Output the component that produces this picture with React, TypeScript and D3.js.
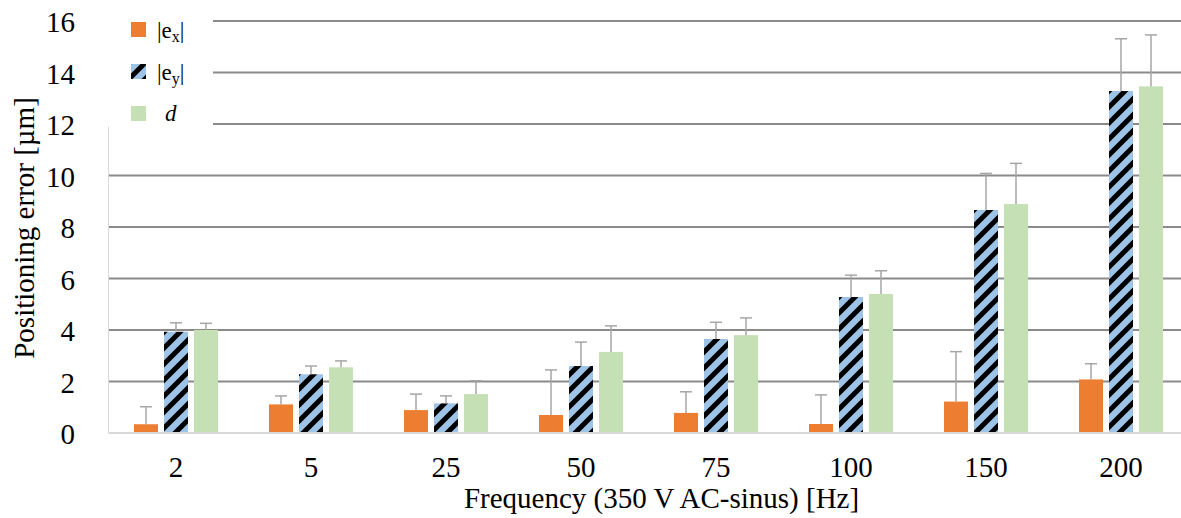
import { useMemo } from 'react';
import * as d3 from 'd3';

const frequencies = ['2', '5', '25', '50', '75', '100', '150', '200'];
const seriesKeys = ['ex', 'ey', 'd'];

// bar heights
const exValues = [0.34, 1.11, 0.89, 0.7, 0.78, 0.35, 1.22, 2.08];
const eyValues = [3.93, 2.28, 1.15, 2.6, 3.65, 5.28, 8.66, 13.28];
const dValues = [4.0, 2.55, 1.51, 3.15, 3.8, 5.4, 8.89, 13.46];

// upper end of error bars
const exErrTop = [1.02, 1.44, 1.51, 2.45, 1.6, 1.48, 3.16, 2.69];
const eyErrTop = [4.28, 2.6, 1.44, 3.53, 4.3, 6.13, 10.08, 15.31];
const dErrTop = [4.26, 2.8, 2.03, 4.16, 4.47, 6.3, 10.47, 15.46];

const yTicks = [0, 2, 4, 6, 8, 10, 12, 14, 16];

const W = 1181;
const H = 518;
const FONT = '"Liberation Serif", "Times New Roman", serif';

export default function App() {
  const y = useMemo(() => d3.scaleLinear().domain([0, 16]).range([433, 21]), []);
  const x = useMemo(
    () => d3.scaleBand<string>().domain(frequencies).range([108.5, 108.5 + 8 * 135]).padding(0),
    []
  );
  const xs = useMemo(
    () => d3.scaleBand<string>().domain(seriesKeys).range([-42, 42]).paddingInner(0.2),
    []
  );

  const fills: Record<string, string> = {
    ex: '#ed7d31',
    ey: 'url(#hatch)',
    d: '#c5e0b4'
  };
  const values: Record<string, number[]> = { ex: exValues, ey: eyValues, d: dValues };
  const errTops: Record<string, number[]> = { ex: exErrTop, ey: eyErrTop, d: dErrTop };

  const plotLeft = 108.5;
  const bw = xs.bandwidth();

  return (
    <svg
      width={W}
      height={H}
      style={{ position: 'absolute', left: 0, top: 0, background: '#fff' }}
      fontFamily={FONT}
    >
      <defs>
        <pattern id="hatch" patternUnits="userSpaceOnUse" width={16} height={16}>
          <rect width={16} height={16} fill="#9dc3e6" />
          <path d="M-4,4 L4,-4 M0,16 L16,0 M12,20 L20,12" stroke="#000" strokeWidth={5} />
        </pattern>
      </defs>

      {/* gridlines */}
      {yTicks.filter(t => t > 0).map(t => (
        <line key={t} x1={plotLeft} x2={W} y1={y(t)} y2={y(t)} stroke="#8a8a8a" strokeWidth={1.8} />
      ))}

      {/* bars */}
      {frequencies.map((f, i) => {
        const cx = (x(f) || 0) + x.bandwidth() / 2;
        return (
          <g key={f}>
            {seriesKeys.map(k => {
              const bx = cx + (xs(k) || 0);
              const v = values[k][i];
              const e = errTops[k][i];
              const mx = bx + bw / 2;
              return (
                <g key={k}>
                  <rect x={bx} y={y(v)} width={bw} height={y(0) - y(v)} fill={fills[k]} />
                  <line x1={mx} x2={mx} y1={y(v)} y2={y(e)} stroke="#a6a6a6" strokeWidth={1.5} />
                  <line x1={mx - 6} x2={mx + 6} y1={y(e)} y2={y(e)} stroke="#a6a6a6" strokeWidth={1.5} />
                </g>
              );
            })}
            <text x={cx} y={477} textAnchor="middle" fontSize={29} fill="#000">
              {f}
            </text>
          </g>
        );
      })}

      {/* axes */}
      <line x1={plotLeft} x2={W} y1={y(0)} y2={y(0)} stroke="#d9d9d9" strokeWidth={2} />
      <line x1={plotLeft} x2={plotLeft} y1={125} y2={y(0)} stroke="#d9d9d9" strokeWidth={1} />

      {/* legend */}
      <rect x={100} y={0} width={113} height={126.5} fill="#fff" />
      <rect x={131} y={22} width={15} height={15} fill="#ed7d31" />
      <rect x={131} y={64} width={15} height={15} fill="url(#hatch)" />
      <rect x={131} y={106} width={15} height={15} fill="#c5e0b4" />
      <text x={157} y={38} fontSize={23} fill="#000">
        |e<tspan fontSize={16} dy={4}>x</tspan><tspan dy={-4}>|</tspan>
      </text>
      <text x={157} y={80} fontSize={23} fill="#000">
        |e<tspan fontSize={16} dy={4}>y</tspan><tspan dy={-4}>|</tspan>
      </text>
      <text x={165} y={121} fontSize={23} fontStyle="italic" fill="#000">
        d
      </text>

      {/* y tick labels */}
      {yTicks.map(t => (
        <text key={t} x={75} y={y(t)} dy="0.38em" textAnchor="end" fontSize={29} fill="#000">
          {t}
        </text>
      ))}

      {/* axis titles */}
      <text transform="translate(34,228) rotate(-90)" textAnchor="middle" fontSize={29} fill="#000">
        Positioning error [µm]
      </text>
      <text x={661.5} y={508} textAnchor="middle" fontSize={29} fill="#000">
        Frequency (350 V AC-sinus) [Hz]
      </text>
    </svg>
  );
}
